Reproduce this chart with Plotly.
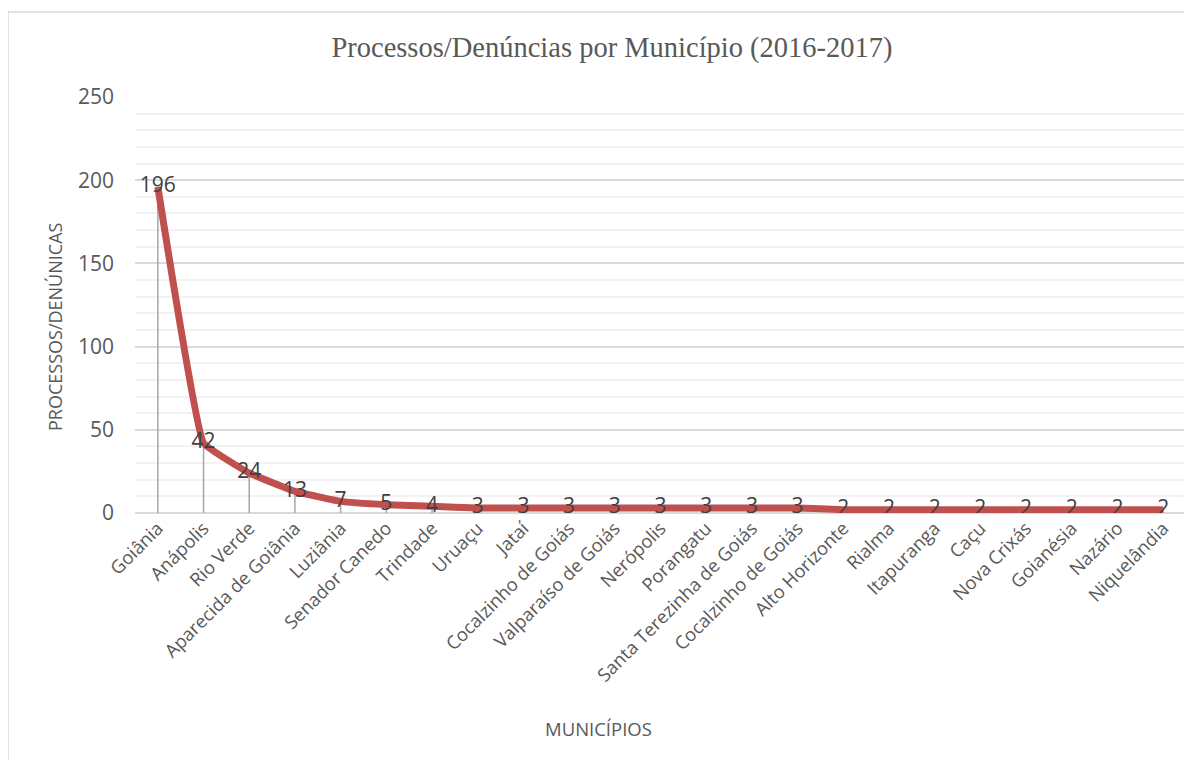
import plotly.graph_objects as go

municipios = [
    "Goiânia", "Anápolis", "Rio Verde", "Aparecida de Goiânia", "Luziânia",
    "Senador Canedo", "Trindade", "Uruaçu", "Jataí", "Cocalzinho de Goiás",
    "Valparaíso de Goiás", "Nerópolis", "Porangatu", "Santa Terezinha de Goiás",
    "Cocalzinho de Goiás", "Alto Horizonte", "Rialma", "Itapuranga", "Caçu",
    "Nova Crixás", "Goianésia", "Nazário", "Niquelândia",
]
processos = [196, 42, 24, 13, 7, 5, 4, 3, 3, 3, 3, 3, 3, 3, 3, 2, 2, 2, 2, 2, 2, 2, 2]
y_ticks = [0, 50, 100, 150, 200, 250]

x_idx = list(range(len(municipios)))

TXT = "#595959"
SANS = "Open Sans"
OFF = 8  # page body margin
W, H = 1192 - OFF, 760 - OFF

# plot area in window pixels (reference)
PL, PR, PT, PB = 135, 1186, 97, 513
PW, PH = PR - PL, PB - PT

def px(x):
    return (x - PL) / PW

def py(y):
    return (PB - y) / PH

fig = go.Figure()

# drop lines
fig.add_trace(go.Scatter(
    x=x_idx, y=processos, mode="markers",
    marker=dict(color="rgba(0,0,0,0)", size=1),
    error_y=dict(type="data", symmetric=False, array=[0] * len(processos),
                 arrayminus=processos, color="#A6A6A6", thickness=1.5, width=0),
    hoverinfo="skip", showlegend=False,
))

# main line with labels
fig.add_trace(go.Scatter(
    x=x_idx, y=processos, mode="lines+text",
    line=dict(color="#C0504D", width=7, shape="spline", smoothing=0.25),
    text=[str(v) for v in processos], textposition="middle center",
    textfont=dict(family=SANS, size=21, color="#404040"),
    showlegend=False,
))

fig.update_layout(
    width=W, height=H,
    paper_bgcolor="white", plot_bgcolor="white",
    margin=dict(l=PL - OFF, r=W - (PR - OFF), t=PT - OFF, b=H - (PB - OFF)),
    title=dict(text="Processos/Denúncias por Município (2016-2017)",
               x=(612 - OFF) / W, xanchor="center", xref="container",
               y=1 - (47 - OFF) / H, yanchor="middle", yref="container",
               font=dict(family="Liberation Serif", size=28.5, color=TXT)),
    xaxis=dict(
        range=[-0.5, len(municipios) - 0.5],
        tickvals=x_idx, ticktext=municipios, tickangle=-45,
        tickfont=dict(family=SANS, size=18.4, color=TXT),
        showgrid=False, zeroline=False, showline=False, ticks="",
    ),
    yaxis=dict(
        range=[0, 250], tickvals=y_ticks,
        tickfont=dict(family=SANS, size=21, color=TXT),
        showgrid=True, gridcolor="#D9D9D9", gridwidth=1.5,
        minor=dict(dtick=10, showgrid=True, gridcolor="#F2F2F2", gridwidth=1.5),
        zeroline=True, zerolinecolor="#D9D9D9", zerolinewidth=1.5,
        ticks="", ticklabelstandoff=20,
    ),
    annotations=[
        dict(text="PROCESSOS/DENÚNICAS", textangle=-90, xref="paper", yref="paper",
             x=px(55), y=py(327), xanchor="center", yanchor="middle",
             showarrow=False, font=dict(family=SANS, size=18, color=TXT)),
        dict(text="MUNICÍPIOS", xref="paper", yref="paper",
             x=px(598), y=py(728), xanchor="center", yanchor="middle",
             showarrow=False, font=dict(family=SANS, size=18.5, color=TXT)),
    ],
    shapes=[
        dict(type="rect", xref="paper", yref="paper",
             x0=px(8), x1=px(1200), y0=py(770), y1=py(12),
             line=dict(color="#D9D9D9", width=1.5), fillcolor="rgba(0,0,0,0)", layer="below"),
    ],
)

fig.write_html("out.html")
